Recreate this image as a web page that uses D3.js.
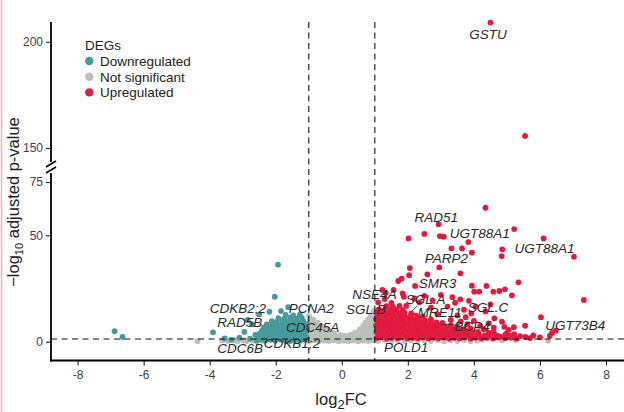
<!DOCTYPE html>
<html><head><meta charset="utf-8">
<script src="https://cdn.jsdelivr.net/npm/d3@7"></script>
<style>body{margin:0;background:#fff}svg{display:block}</style>
</head><body>
<script>
// ---------- DATA ----------
const xTicks = [-8,-6,-4,-2,0,2,4,6,8];
const yTicksLow = [0,50,75];
const yTicksHigh = [150,200];
const fcThreshold = [-1,1];
const pThreshold = 1.3;
const legendItems = ["Downregulated","Not significant","Upregulated"];

const notSig = [
[-4.37,0.2],[-3.62,0.6],[-3.45,0.3],[-3.28,0.8],[-3.15,0.2],[-2.98,0.7],[-2.88,0.2],[-2.7,0.5],[-2.57,0.1],[-2.42,0.4],
[-0.99,0.3],[-0.85,0.6],[-0.7,0.2],[-0.55,0.5],[-0.4,0.3],[-0.25,0.6],[-0.1,0.2],[0.05,0.5],[0.2,0.3],[0.35,0.6],[0.5,0.2],[0.65,0.5],[0.8,0.3],[0.95,0.6],
[-0.97,1.8],[-0.83,1.5],[-0.68,1.9],[-0.53,1.6],[-0.38,1.8],[-0.23,1.5],[-0.08,1.9],[0.07,1.6],[0.22,1.8],[0.37,1.5],[0.52,1.9],[0.67,1.6],[0.82,1.8],[0.97,1.5],
[-0.96,3.2],[-0.81,2.9],[-0.66,3.3],[-0.51,3.0],[-0.36,3.2],[-0.2,2.9],[-0.05,3.1],[0.1,2.8],[0.26,3.3],[0.41,3.0],[0.56,3.2],[0.71,2.9],[0.86,3.3],[0.98,3.0],
[-0.98,4.7],[-0.83,4.4],[-0.68,4.8],[-0.53,4.5],[-0.38,4.3],[-0.24,4.1],[0.4,4.3],[0.55,4.7],[0.7,4.4],[0.85,4.8],[0.97,4.5],
[-0.97,6.2],[-0.81,5.9],[-0.65,6.3],[-0.5,5.8],[-0.4,5.5],[0.55,5.9],[0.68,6.3],[0.83,6.0],[0.97,6.2],
[-0.98,7.7],[-0.83,7.4],[-0.68,7.8],[-0.58,7.1],[0.65,7.5],[0.79,7.8],[0.93,7.4],
[-0.97,9.2],[-0.84,8.9],[-0.72,9.0],[0.72,9.0],[0.85,9.3],[0.97,8.9],
[-0.98,10.7],[-0.87,10.3],[0.8,10.5],[0.92,10.8],
[-0.99,12.0],[0.87,12.1],[0.97,11.9],[0.95,13.5],[0.98,14.6],
[1.1,0.3],[1.3,0.7],[1.5,0.2],[1.7,0.6],[1.9,0.3],[2.1,0.7],[2.3,0.2],[2.5,0.6],[2.7,0.3],[2.9,0.7],[3.1,0.2],[3.3,0.6],[3.5,0.3],[3.7,0.7],[3.9,0.2],[4.1,0.5],[4.25,0.9],[4.85,0.6],[5.25,0.8],[6.25,0.4]
];

const down = [
[-6.88,4.9],[-6.64,2.2],[-3.9,4.4],[-1.93,36.2],[-2.03,21.1],[-1.62,16.2],[-1.84,14.4],[-2.19,14.1],[-2.5,12.8],[-2.72,8.1],[-2.95,4.6],[-3.1,1.9],[-3.35,0.9],[-3.55,1.6],[-2.85,10.2],[-2.62,3.2],[-2.78,1.4],
[-2.58,0.6],[-2.44,1.1],[-2.31,0.5],[-2.16,0.9],[-2.01,0.4],[-1.86,1.0],[-1.71,0.6],[-1.56,0.3],[-1.41,0.8],[-1.26,0.5],[-1.11,0.9],
[-2.53,2.3],[-2.39,1.9],[-2.24,2.5],[-2.09,2.0],[-1.94,2.4],[-1.79,1.8],[-1.64,2.2],[-1.49,2.5],[-1.34,1.9],[-1.19,2.3],[-1.06,2.0],
[-2.49,3.8],[-2.33,3.4],[-2.19,3.9],[-2.04,3.3],[-1.89,3.7],[-1.74,3.5],[-1.59,3.9],[-1.44,3.3],[-1.29,3.8],[-1.14,3.4],
[-2.42,5.2],[-2.28,4.8],[-2.13,5.3],[-1.98,4.9],[-1.83,5.1],[-1.68,4.7],[-1.53,5.3],[-1.38,4.9],[-1.23,5.2],[-1.08,4.8],
[-2.36,6.7],[-2.21,6.3],[-2.06,6.8],[-1.91,6.4],[-1.76,6.6],[-1.61,6.2],[-1.46,6.8],[-1.31,6.3],[-1.16,6.6],
[-2.27,8.1],[-2.11,7.8],[-1.96,8.3],[-1.81,7.9],[-1.66,8.2],[-1.51,7.7],[-1.36,8.1],[-1.21,7.8],[-1.06,8.2],
[-2.12,9.6],[-1.97,9.3],[-1.8,9.8],[-1.63,9.4],[-1.47,9.7],[-1.32,9.2],[-1.17,9.6],
[-1.92,11.1],[-1.74,10.8],[-1.56,11.3],[-1.38,10.9],[-1.21,11.2],
[-1.7,12.6],[-1.47,12.3],[-1.27,12.7]
];

const up = [
[4.5,209],[5.55,155.7],
[4.35,62.9],[2.93,55.1],[2.5,50.6],[2.02,48.5],[2.97,49.6],[3.09,49.3],[5.22,52.9],[6.11,48.5],[7.03,39.9],[3.83,46.8],[3.32,43.8],[3.64,43.8],[3.94,41.8],[4.86,43.4],[4.84,40.2],
[2.95,34.9],[2.06,34.6],[2.04,31.2],[2.59,31.6],[3.59,32.1],[1.81,29.6],[1.71,28.5],[5.35,27.9],[3.94,26.3],[4.16,23.5],[4.38,26.2],[4.01,23.5],[4.59,23.5],[4.77,23.8],[4.94,24.6],[5.15,21.8],
[7.33,19.6],[6.03,11.5],[5.55,7.5],[5.21,6.8],[6.37,4.2],[6.48,5.2],[2.22,26.2],[1.84,22.7],[3.59,19.9],[3.43,18.3],[4.62,11.0],[4.85,9.4],[4.92,7.0],[3.92,13.3],[4.19,7.4],[5.22,3.6],[5.56,2.3],[5.8,3.0],
[1.3,20],[1.5,18.2],[2.35,18.5],[2.7,16],[3.0,22],[3.2,16.5],[3.7,15],[2.9,12.8],[3.5,12.3],[4.05,16.5],[4.35,14.2],[4.5,17.5],[2.5,21.5],[3.85,19.2],[1.95,16.8],[1.23,24.3],[1.33,22.9],[1.57,24.3],[1.88,21.1],[1.1,18.5],[3.3,10.2],[3.6,9.5],[3.8,8.2],[4.3,5.8],[4.6,4.4],[4.8,2.4],[5.0,4.0],[5.4,2.6],[5.7,1.7],[6.0,2.0],[6.3,2.8],[4.45,8.6],[3.75,11.5],[4.0,9.8],[4.6,6.6],[5.05,5.6],[2.75,19.4],[3.35,20.9],[2.2,20.3],
[1.05,1.7],[1.2,2.0],[1.36,1.5],[1.52,1.9],[1.68,1.6],[1.83,2.1],[1.99,1.5],[2.15,1.8],[2.3,1.6],[2.46,2.0],[2.62,1.5],[2.78,1.9],[2.93,1.6],[3.1,2.0],[3.25,1.5],[3.41,1.8],[3.57,1.6],[3.73,2.0],[3.9,1.5],[4.05,1.9],[4.22,1.6],[4.4,1.8],[4.58,1.5],[4.75,2.0],[4.95,1.6],[5.12,1.9],[5.3,1.5],
[1.12,3.2],[1.28,2.9],[1.44,3.4],[1.6,3.0],[1.76,3.3],[1.92,2.9],[2.07,3.2],[2.23,3.4],[2.39,3.0],[2.55,3.3],[2.7,2.9],[2.86,3.2],[3.02,3.4],[3.18,3.0],[3.34,3.3],[3.5,2.9],[3.66,3.2],[3.82,3.4],[3.98,3.0],[4.15,3.3],[4.32,2.9],[4.5,3.2],[4.7,2.8],[4.95,3.3],[5.1,2.7],
[1.05,4.6],[1.2,4.9],[1.37,4.5],[1.53,4.8],[1.69,4.4],[1.85,4.7],[2.01,4.9],[2.17,4.5],[2.33,4.8],[2.49,4.4],[2.65,4.7],[2.81,4.9],[2.97,4.5],[3.13,4.8],[3.29,4.4],[3.45,4.7],[3.61,4.5],[3.78,4.8],[3.95,4.3],[4.12,4.6],[4.45,4.2],
[1.1,6.2],[1.27,5.9],[1.43,6.3],[1.59,6.0],[1.75,6.4],[1.91,6.1],[2.07,5.8],[2.23,6.2],[2.39,6.0],[2.55,6.3],[2.71,5.9],[2.87,6.2],[3.03,6.0],[3.19,6.4],[3.36,5.8],[3.52,6.1],[3.7,5.9],[3.9,6.2],
[1.04,7.6],[1.2,7.9],[1.36,7.5],[1.52,7.8],[1.68,7.4],[1.84,7.7],[2.0,7.9],[2.16,7.5],[2.32,7.8],[2.48,7.4],[2.64,7.7],[2.8,7.5],[2.96,7.8],[3.12,7.3],[3.3,7.6],[3.48,7.2],
[1.1,9.2],[1.26,8.9],[1.42,9.3],[1.58,9.0],[1.74,9.4],[1.9,9.1],[2.06,8.8],[2.22,9.2],[2.38,9.0],[2.54,9.3],[2.7,8.9],[2.86,9.1],[3.05,8.8],
[1.04,10.6],[1.2,10.9],[1.36,10.5],[1.52,10.8],[1.68,10.4],[1.84,10.7],[2.0,10.9],[2.16,10.5],[2.32,10.7],[2.5,10.3],[2.7,10.6],
[1.1,12.2],[1.26,11.9],[1.42,12.3],[1.58,12.0],[1.74,12.4],[1.9,12.1],[2.07,11.8],[2.25,12.2],[2.45,11.9],
[1.05,13.6],[1.22,13.9],[1.38,13.5],[1.55,13.8],[1.72,13.4],[1.9,13.7],[2.1,13.3],
[1.12,15.2],[1.3,14.9],[1.48,15.3],[1.66,15.0],[1.85,14.8],
[1.35,16.7],[1.55,16.4],[1.75,16.8]
];

const geneLabels = [
{name:"GSTU", x:3.86, y:201.3},
{name:"RAD51", x:2.20, y:56.3},
{name:"UGT88A1", x:3.27, y:48.5},
{name:"UGT88A1", x:5.23, y:41.5},
{name:"PARP2", x:2.51, y:36.8},
{name:"SMR3", x:2.33, y:25.1},
{name:"SGL.A", x:1.94, y:17.6},
{name:"MRE11", x:2.30, y:11.5},
{name:"SGL.C", x:3.81, y:13.8},
{name:"BCP4", x:3.41, y:5.2},
{name:"UGT73B4", x:6.16, y:5.5},
{name:"POLD1", x:1.28, y:-4.7},
{name:"NSE4A", x:0.32, y:19.9},
{name:"SGL.B", x:0.13, y:13.0},
{name:"CDKB2;2", x:-4.0, y:13.3},
{name:"RAD5B", x:-3.77, y:6.8},
{name:"PCNA2", x:-1.61, y:13.6},
{name:"CDC45A", x:-1.69, y:4.7},
{name:"CDKB1;2", x:-2.36, y:-3.1},
{name:"CDC6B", x:-3.77, y:-5.4}
];
const leaders = [
[[3.0,8.0],[3.39,8.0]],
[[2.29,16.9],[2.12,14.4]]
];

// ---------- CHART ----------
const W=624,H=412;
const FONT = "'Liberation Sans', Arial, Helvetica, sans-serif";
const AXIS_X = 51, AXIS_Y = 360.5, TOP = 22;
const colors = {down:"#449b9a", ns:"#b9c1b9", up:"#e3193f"};

const svg = d3.select("body").append("svg").attr("width",W).attr("height",H)
  .style("font-family", FONT);

const x = d3.scaleLinear().domain([-8,8]).range([77.6,606]);
const yLow = d3.scaleLinear().domain([0,75]).range([341.7,182]);
const yHigh = d3.scaleLinear().domain([150,200]).range([148,41.7]);
const yPos = v => v >= 120 ? yHigh(v) : yLow(v);

// left pink edge of screenshot
svg.append("line").attr("x1",1.5).attr("x2",1.5).attr("y1",0).attr("y2",H)
  .attr("stroke","#f1b3b9").attr("stroke-width",1.5);

// points
const R = 2.9;
function drawPts(data, col){
  svg.append("g").selectAll("circle").data(data).join("circle")
    .attr("cx", d=>x(d[0])).attr("cy", d=>yPos(d[1])).attr("r", R).attr("fill", col);
}
drawPts(notSig, colors.ns);
drawPts(down, colors.down);
drawPts(up, colors.up);

// threshold lines
svg.append("g").selectAll("line").data(fcThreshold).join("line")
  .attr("x1", d=>x(d)).attr("x2", d=>x(d)).attr("y1", TOP).attr("y2", AXIS_Y)
  .attr("stroke","#111").attr("stroke-width",1.1).attr("stroke-dasharray","6,4.5");
svg.append("line").attr("x1",AXIS_X).attr("x2",W).attr("y1",yLow(pThreshold)).attr("y2",yLow(pThreshold))
  .attr("stroke","#111").attr("stroke-width",1.1).attr("stroke-dasharray","6,4.5");

// axes
function styleAxis(g){
  g.select(".domain").remove();
  g.selectAll(".tick line").attr("stroke","#222").attr("stroke-width",1.1);
  g.selectAll(".tick text").attr("fill","#404040").style("font-size","12px").style("font-family",FONT);
}
svg.append("g").attr("transform",`translate(0,${AXIS_Y})`)
  .call(d3.axisBottom(x).tickValues(xTicks).tickSize(5).tickPadding(5).tickFormat(d=>String(d)))
  .call(styleAxis);
svg.append("g").attr("transform",`translate(${AXIS_X},0)`)
  .call(d3.axisLeft(yLow).tickValues(yTicksLow).tickSize(5).tickPadding(3).tickFormat(d=>String(d)))
  .call(styleAxis);
svg.append("g").attr("transform",`translate(${AXIS_X},0)`)
  .call(d3.axisLeft(yHigh).tickValues(yTicksHigh).tickSize(5).tickPadding(3).tickFormat(d=>String(d)))
  .call(styleAxis);

// axis lines (broken y axis)
const BREAK_TOP = 162, BREAK_BOT = 173;
svg.append("line").attr("x1",AXIS_X).attr("x2",AXIS_X).attr("y1",TOP).attr("y2",BREAK_TOP).attr("stroke","#000").attr("stroke-width",1.8);
svg.append("line").attr("x1",AXIS_X).attr("x2",AXIS_X).attr("y1",BREAK_BOT).attr("y2",AXIS_Y+0.9).attr("stroke","#000").attr("stroke-width",1.8);
svg.append("line").attr("x1",AXIS_X-0.9).attr("x2",W).attr("y1",AXIS_Y).attr("y2",AXIS_Y).attr("stroke","#000").attr("stroke-width",1.8);
[0,6].forEach(o=>{
  svg.append("line").attr("x1",AXIS_X-5).attr("y1",BREAK_TOP+5+o).attr("x2",AXIS_X+5).attr("y2",BREAK_TOP-1+o)
    .attr("stroke","#000").attr("stroke-width",1.6);
});

// axis titles
const yt = svg.append("text").attr("transform","translate(19,202) rotate(-90)")
  .attr("text-anchor","middle").attr("fill","#222").style("font-size","16.5px");
yt.append("tspan").text("\u2212log");
yt.append("tspan").text("10").attr("dy",4).style("font-size","11px");
yt.append("tspan").text(" adjusted p-value").attr("dy",-4);

const xt = svg.append("text").attr("x",341).attr("y",405)
  .attr("text-anchor","middle").attr("fill","#222").style("font-size","16.5px");
xt.append("tspan").text("log");
xt.append("tspan").text("2").attr("dy",4).style("font-size","13px");
xt.append("tspan").text("FC").attr("dy",-4);

// legend
const lg = svg.append("g").attr("transform","translate(85,0)");
lg.append("text").attr("x",0).attr("y",50).text("DEGs").attr("fill","#222").style("font-size","13.5px");
const lcols = [colors.down, colors.ns, colors.up];
legendItems.forEach((t,i)=>{
  const cy = 61 + i*15.7;
  lg.append("circle").attr("cx",4.3).attr("cy",cy).attr("r",4.2).attr("fill",lcols[i]);
  lg.append("text").attr("x",15).attr("y",cy+5).text(t).attr("fill","#222").style("font-size","13.5px");
});

// leader lines
svg.append("g").selectAll("line").data(leaders).join("line")
  .attr("x1",d=>x(d[0][0])).attr("y1",d=>yPos(d[0][1]))
  .attr("x2",d=>x(d[1][0])).attr("y2",d=>yPos(d[1][1]))
  .attr("stroke","#333").attr("stroke-width",0.9);

// gene labels
svg.append("g").selectAll("text").data(geneLabels).join("text")
  .attr("x",d=>x(d.x)).attr("y",d=>yPos(d.y))
  .text(d=>d.name)
  .attr("fill","#2a2a2a").style("font-style","italic").style("font-size","13.5px");
</script>
</body></html>
